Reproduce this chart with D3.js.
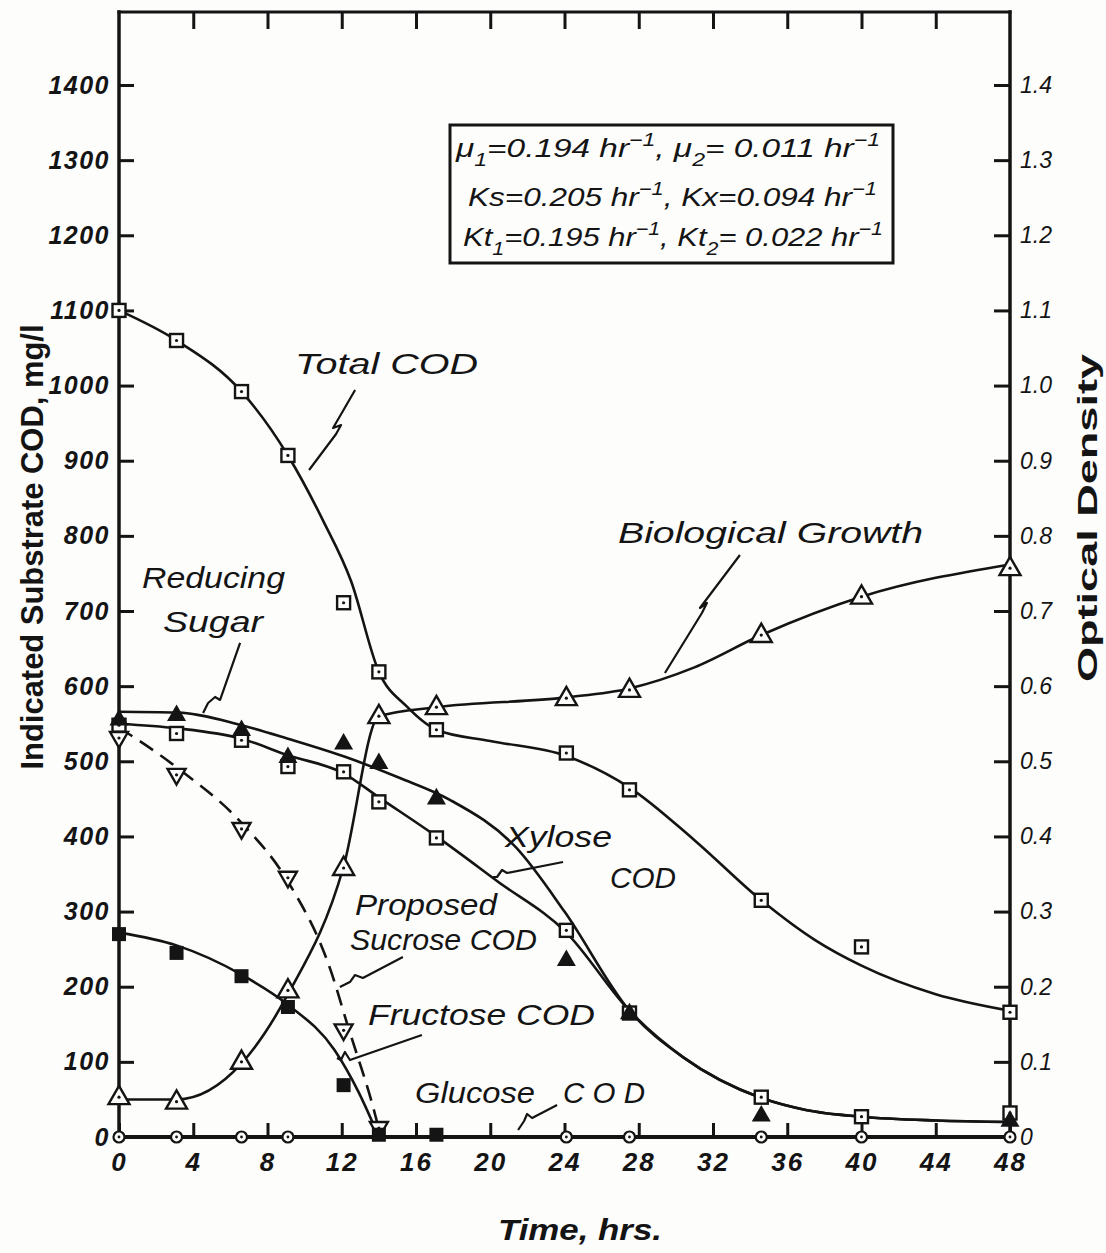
<!DOCTYPE html>
<html>
<head>
<meta charset="utf-8">
<script src="https://cdn.jsdelivr.net/npm/d3@7"></script>
<style>
  body { margin: 0; background: #fdfdfc; }
  svg { display: block; }
</style>
</head>
<body>
<svg id="chart" width="1106" height="1253"></svg>
<script>
// ---- measured samples (time in hours) ----
const hours         = [0, 3.1, 6.6, 9.1, 12.1, 14, 17.1, 24.1, 27.5, 34.6, 40, 48];
const totalCOD      = [1100, 1060, 992, 907, 711, 619, 542, 511, 462, 315, 253, 166];
const growthOD      = [0.053, 0.047, 0.100, 0.195, 0.358, 0.560, 0.572, 0.584, 0.595, 0.668, 0.719, 0.757];
const reducingSugar = [556, 562, 542, 506, 524, 498, 451, 236, 165, 29, null, 22];
const xyloseCOD     = [548, 537, 528, 493, 486, 446, 398, 275, 165, 53, 27, 32];
const fructoseCOD   = [270, 245, 214, 173, 69, 3, 3, null, null, null, null, null];
const sucroseCOD    = [531, 482, 410, 345, 142, 12, null, null, null, null, null, null];
const glucoseCOD    = [0, 0, 0, 0, null, null, null, 0, 0, 0, 0, 0];

// ---- smoothed (fitted) curves ----
const totalFitT  = [0, 3.1, 6.6, 9.1, 11, 12.5, 14, 15.5, 17.1, 20, 24.1, 27.5, 31, 34.6, 37.5, 40, 44, 48];
const totalFitV  = [1100, 1060, 992, 907, 820, 740, 619, 573, 542, 527, 507, 465, 395, 315, 262, 228, 190, 168];
const growthFitT = [0, 3.1, 6.6, 9.1, 12.1, 14, 17.1, 24.1, 27.5, 31, 34.6, 40, 48];
const growthFitV = [0.050, 0.050, 0.098, 0.190, 0.360, 0.560, 0.572, 0.585, 0.597, 0.625, 0.668, 0.719, 0.762];
const sugarFitT  = [0, 3.1, 6.6, 9.1, 12.4, 15.1, 17.8, 21.4, 24, 27.5, 30.4, 34.6, 37, 40, 44, 48];
const sugarFitV  = [566, 565, 548, 530, 504, 478, 449, 385, 300, 168, 106, 52, 36, 27, 22, 20];
const xyloseFitT = [0, 3.1, 6.6, 9.1, 12.1, 14, 17.1, 20.4, 24.1, 27.5, 30.4, 34.6, 37, 40, 44, 48];
const xyloseFitV = [550, 544, 530, 508, 484, 452, 400, 340, 272, 168, 106, 52, 36, 27, 22, 20];
const fructFitT  = [0, 3.1, 6.6, 9.1, 11.6, 12.9, 14];
const fructFitV  = [272, 255, 216, 176, 116, 60, 0];
const sucrFitT   = [0, 3.1, 6.6, 9.1, 11.4, 12.3, 13.9, 14.1];
const sucrFitV   = [545, 492, 418, 340, 222, 150, 20, 0];

// ---- axis ticks ----
const xTicks      = d3.range(0, 49, 4);
const codTicks    = d3.range(0, 1401, 100);
const odTicks     = d3.range(0, 15).map(i => i / 10);
const odLabels    = ["0", "0.1", "0.2", "0.3", "0.4", "0.5", "0.6", "0.7", "0.8", "0.9", "1.0", "1.1", "1.2", "1.3", "1.4"];

// ---- rate constants box ----
const rateLines = [
  [["μ", ""], ["1", "sub"], ["=0.194 hr", ""], ["−1", "sup"], [",  μ", ""], ["2", "sub"], ["= 0.011 hr", ""], ["−1", "sup"]],
  [["Ks=0.205 hr", ""], ["−1", "sup"], [",   Kx=0.094 hr", ""], ["−1", "sup"]],
  [["Kt", ""], ["1", "sub"], ["=0.195 hr", ""], ["−1", "sup"], [",  Kt", ""], ["2", "sub"], ["= 0.022 hr", ""], ["−1", "sup"]]
];

const X0 = 119, X1 = 1010, YTOP = 12, Y0 = 1137, Y1400 = 85;
const ink = "#141414";
const paper = "#fdfdfc";

const svg = d3.select("#chart");
const x  = d3.scaleLinear().domain([0, 48]).range([X0, X1]);
const yL = d3.scaleLinear().domain([0, 1400]).range([Y0, Y1400]);
const yR = d3.scaleLinear().domain([0, 1.4]).range([Y0, Y1400]);

const FONT = "'Liberation Sans', 'DejaVu Sans', Arial, sans-serif";

function styleAxis(g, size, weight, style) {
  g.select(".domain").remove();
  g.selectAll(".tick line").attr("stroke", ink).attr("stroke-width", 3);
  g.selectAll(".tick text")
    .attr("fill", ink)
    .attr("font-family", FONT)
    .attr("font-size", size)
    .attr("font-weight", weight)
    .attr("font-style", style);
}

// left axis (substrate COD)
svg.append("g")
  .attr("transform", `translate(${X0},0)`)
  .call(d3.axisLeft(yL).tickValues(codTicks).tickSize(-15).tickPadding(9).tickFormat(d3.format("d")))
  .call(g => styleAxis(g, 25, "bold", "italic"))
  .call(g => g.selectAll(".tick text").attr("letter-spacing", 1.5));

// right axis (optical density)
svg.append("g")
  .attr("transform", `translate(${X1},0)`)
  .call(d3.axisRight(yR).tickValues(odTicks).tickSize(-16).tickPadding(10).tickFormat((d, i) => odLabels[i]))
  .call(g => styleAxis(g, 23, "normal", "italic"));

// bottom axis (time)
svg.append("g")
  .attr("transform", `translate(0,${Y0})`)
  .call(d3.axisBottom(x).tickValues(xTicks).tickSize(-14).tickPadding(16).tickFormat(d3.format("d")))
  .call(g => styleAxis(g, 26, "bold", "italic"))
  .call(g => g.selectAll(".tick text").attr("letter-spacing", 2));

// top ticks
svg.append("g")
  .attr("transform", `translate(0,${YTOP})`)
  .call(d3.axisTop(x).tickValues(xTicks.slice(1, -1)).tickSize(-17).tickFormat(""))
  .call(g => styleAxis(g, 10, "normal", "normal"));

// frame
const frame = svg.append("g").attr("stroke", ink).attr("fill", "none").attr("stroke-linecap", "square");
frame.append("line").attr("x1", X0).attr("x2", X1).attr("y1", YTOP).attr("y2", YTOP).attr("stroke-width", 3);
frame.append("line").attr("x1", X0).attr("x2", X1).attr("y1", Y0).attr("y2", Y0).attr("stroke-width", 4);
frame.append("line").attr("x1", X0).attr("x2", X0).attr("y1", YTOP).attr("y2", Y0).attr("stroke-width", 3.5);
frame.append("line").attr("x1", X1).attr("x2", X1).attr("y1", YTOP).attr("y2", Y0).attr("stroke-width", 3.5);

// fitted curves
const zip = (t, v) => t.map((d, i) => [d, v[i]]);
const lineL = d3.line().x(d => x(d[0])).y(d => yL(d[1])).curve(d3.curveMonotoneX);
const lineR = d3.line().x(d => x(d[0])).y(d => yR(d[1])).curve(d3.curveMonotoneX);
const curves = svg.append("g").attr("fill", "none").attr("stroke", ink).attr("stroke-width", 2.6).attr("stroke-linejoin", "round");
curves.append("path").attr("d", lineL(zip(totalFitT, totalFitV)));
curves.append("path").attr("d", lineR(zip(growthFitT, growthFitV)));
curves.append("path").attr("d", lineL(zip(sugarFitT, sugarFitV)));
curves.append("path").attr("d", lineL(zip(xyloseFitT, xyloseFitV)));
curves.append("path").attr("d", lineL(zip(fructFitT, fructFitV)));
curves.append("path").attr("d", lineL(zip(sucrFitT, sucrFitV))).attr("stroke-dasharray", "16,9");

// marker shapes
const triUp = s => { const h = s * 0.87; return `M0,${-h * 0.62}L${s / 2},${h * 0.38}L${-s / 2},${h * 0.38}Z`; };
const triDown = s => { const h = s * 0.87; return `M0,${h * 0.62}L${s / 2},${-h * 0.38}L${-s / 2},${-h * 0.38}Z`; };

function drawMarkers(values, scale, kind) {
  const pts = hours.map((t, i) => [t, values[i]]).filter(d => d[1] !== null);
  const g = svg.append("g");
  const sel = g.selectAll("g").data(pts).join("g")
    .attr("transform", d => `translate(${x(d[0])},${scale(d[1])})`);
  if (kind === "openSquare") {
    sel.append("rect").attr("x", -6.5).attr("y", -6.5).attr("width", 13).attr("height", 13)
      .attr("fill", paper).attr("stroke", ink).attr("stroke-width", 2.4);
    sel.append("circle").attr("r", 1.6).attr("fill", ink);
  } else if (kind === "filledSquare") {
    sel.append("rect").attr("x", -7).attr("y", -7).attr("width", 14).attr("height", 14).attr("fill", ink);
  } else if (kind === "filledTri") {
    sel.append("path").attr("d", triUp(19)).attr("fill", ink);
  } else if (kind === "openTri") {
    sel.append("path").attr("d", triUp(21)).attr("fill", paper).attr("stroke", ink).attr("stroke-width", 2.4).attr("stroke-linejoin", "miter");
    sel.append("circle").attr("r", 1.6).attr("fill", ink);
  } else if (kind === "openTriDown") {
    sel.append("path").attr("d", triDown(18)).attr("fill", paper).attr("stroke", ink).attr("stroke-width", 2.4);
    sel.append("circle").attr("r", 1.6).attr("fill", ink);
  } else if (kind === "circle") {
    sel.append("circle").attr("r", 5.5).attr("fill", paper).attr("stroke", ink).attr("stroke-width", 2.2);
    sel.append("circle").attr("r", 1.4).attr("fill", ink);
  }
}

drawMarkers(glucoseCOD, yL, "circle");
drawMarkers(totalCOD, yL, "openSquare");
drawMarkers(xyloseCOD, yL, "openSquare");
drawMarkers(sucroseCOD, yL, "openTriDown");
drawMarkers(growthOD, yR, "openTri");
drawMarkers(fructoseCOD, yL, "filledSquare");
drawMarkers(reducingSugar, yL, "filledTri");

// curve labels
const labels = [
  { text: "Total COD",         x: 295, y: 374,  w: 183 },
  { text: "Biological Growth", x: 618, y: 543,  w: 305 },
  { text: "Reducing",          x: 142, y: 588,  w: 143 },
  { text: "Sugar",             x: 163, y: 632,  w: 100 },
  { text: "Xylose",            x: 505, y: 847,  w: 107 },
  { text: "COD",               x: 610, y: 888,  w: 66 },
  { text: "Proposed",          x: 355, y: 915,  w: 142 },
  { text: "Sucrose COD",       x: 350, y: 950,  w: 187 },
  { text: "Fructose COD",      x: 368, y: 1025, w: 227 },
  { text: "Glucose",           x: 415, y: 1103, w: 120 },
  { text: "C O D",             x: 563, y: 1103, w: 82 }
];
svg.append("g").selectAll("text").data(labels).join("text")
  .attr("x", d => d.x).attr("y", d => d.y)
  .attr("textLength", d => d.w).attr("lengthAdjust", "spacingAndGlyphs")
  .attr("font-family", FONT).attr("font-style", "italic").attr("font-size", 30)
  .attr("fill", ink)
  .text(d => d.text);

// pointers from labels to curves: anchor in data units, bolt shape in pixel offsets
const pointers = [
  { at: [10.24, 887.6], axis: "L", shape: [[46, -80], [24, -42], [32, -45], [27, -36], [0, 0]] },
  { at: [29.41, 0.6175], axis: "R", shape: [[75, -118], [35, -65], [42, -70], [37, -60], [0, 0]] },
  { at: [4.53, 564.3], axis: "L", shape: [[37, -70], [17, -13], [12, -16], [5, -10], [0, 0]] },
  { at: [20.15, 346], axis: "L", shape: [[70, -15], [14, -4], [9, -7], [4, 0], [0, 0]] },
  { at: [11.9, 199.6], axis: "L", shape: [[63, -30], [23, -9], [15, -12], [10, -5], [0, 0]] },
  { at: [11.74, 105.1], axis: "L", shape: [[85, -23], [13, 2], [8, -6], [4, 2], [0, 0]] },
  { at: [21.5, 9.3], axis: "L", shape: [[39, -25], [14, -12], [9, -16], [6, -9], [0, 0]] }
];
svg.append("g").selectAll("path").data(pointers).join("path")
  .attr("transform", d => `translate(${x(d.at[0])},${(d.axis === "L" ? yL : yR)(d.at[1])})`)
  .attr("d", d => d3.line()(d.shape))
  .attr("fill", "none").attr("stroke", ink).attr("stroke-width", 2.2).attr("stroke-linejoin", "round");

// rate constant box
svg.append("rect").attr("x", 450).attr("y", 125).attr("width", 443).attr("height", 138)
  .attr("fill", "none").attr("stroke", ink).attr("stroke-width", 3);
const boxLayout = [{ x: 456, y: 157, w: 424 }, { x: 468, y: 206, w: 409 }, { x: 463, y: 246, w: 420 }];
rateLines.forEach((parts, li) => {
  const t = svg.append("text")
    .attr("x", boxLayout[li].x).attr("y", boxLayout[li].y)
    .attr("textLength", boxLayout[li].w).attr("lengthAdjust", "spacingAndGlyphs")
    .attr("font-family", FONT).attr("font-style", "italic").attr("font-size", 26).attr("fill", ink);
  let shift = 0;
  parts.forEach(([s, kind]) => {
    const target = kind === "sub" ? 9 : kind === "sup" ? -11 : 0;
    t.append("tspan")
      .attr("dy", target - shift)
      .attr("font-size", kind ? 18 : 26)
      .text(s);
    shift = target;
  });
});

// axis titles
svg.append("text")
  .attr("transform", "translate(43,547) rotate(-90)")
  .attr("text-anchor", "middle")
  .attr("textLength", 445).attr("lengthAdjust", "spacingAndGlyphs")
  .attr("font-family", FONT).attr("font-weight", "bold").attr("font-size", 31).attr("fill", ink)
  .text("Indicated  Substrate  COD,  mg/l");

svg.append("text")
  .attr("transform", "translate(1097,518) rotate(-90)")
  .attr("text-anchor", "middle")
  .attr("textLength", 328).attr("lengthAdjust", "spacingAndGlyphs")
  .attr("font-family", FONT).attr("font-weight", "bold").attr("font-size", 28).attr("fill", ink)
  .text("Optical  Density");

svg.append("text")
  .attr("x", 498).attr("y", 1240)
  .attr("textLength", 164).attr("lengthAdjust", "spacingAndGlyphs")
  .attr("font-family", FONT).attr("font-weight", "bold").attr("font-style", "italic").attr("font-size", 30).attr("fill", ink)
  .text("Time, hrs.");
</script>
</body>
</html>
